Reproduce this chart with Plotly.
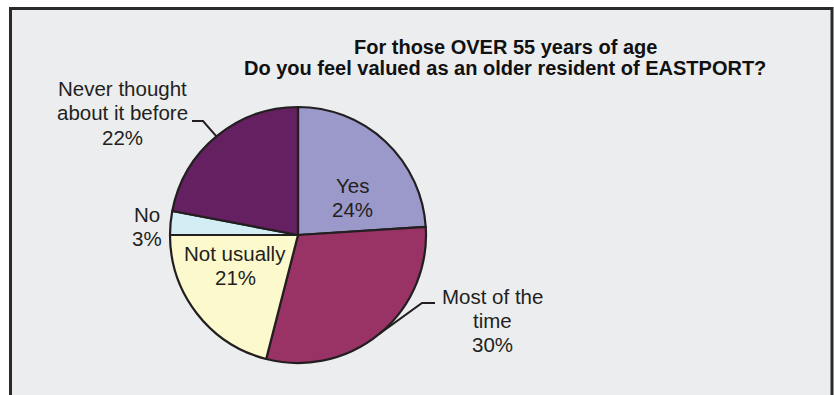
import math
import plotly.graph_objects as go

# ---- data ----
categories = ["Yes", "Most of the time", "Not usually", "No", "Never thought about it before"]
values = [24, 30, 21, 3, 22]
colors = ["#9B98CA", "#993366", "#FCF9CC", "#D3EDF4", "#642060"]
label_lines = [
    ["Yes"],
    ["Most of the", "time"],
    ["Not usually"],
    ["No"],
    ["Never thought", "about it before"],
]
title_lines = ["For those OVER 55 years of age",
               "Do you feel valued as an older resident of EASTPORT?"]

W, H = 834, 395
FONT = "Arial, Liberation Sans, sans-serif"

def px(x):
    return x / W

def py(y):
    return 1 - y / H

# pie geometry (pixels)
CX, CY, R = 298, 235, 128

fig = go.Figure()
fig.add_trace(go.Pie(
    labels=categories,
    values=values,
    sort=False,
    direction="clockwise",
    rotation=0,
    marker=dict(colors=colors, line=dict(color="#231F20", width=2.2)),
    textinfo="none",
    hoverinfo="label+percent",
    showlegend=False,
    domain=dict(x=[px(CX - R), px(CX + R)], y=[py(CY + R), py(CY - R)]),
))

shapes = []
# chart frame
shapes.append(dict(type="rect", xref="paper", yref="paper", layer="below",
                   x0=px(10.5), x1=px(832), y0=py(420), y1=py(8.5),
                   fillcolor="#ECEDEF", line=dict(color="#2A2A2A", width=3)))

annotations = []
# title lines
for i, t in enumerate(title_lines):
    annotations.append(dict(text=t, x=px(505), y=py(47 + 21 * i), xref="paper", yref="paper",
                            showarrow=False, xanchor="center", yanchor="middle",
                            font=dict(family=FONT, size=20, color="#111111", weight="bold")))

# label positions (center x, first line y) in pixels
label_pos = {
    "Yes": (352, 185),
    "Most of the time": (492, 296),
    "Not usually": (235, 253),
    "No": (147, 214),
    "Never thought about it before": (122, 89),
}
LINE_H = 24
total = sum(values)
cum = 0
for cat, v, lines in zip(categories, values, label_lines):
    mid = (cum + v / 2) / total * 2 * math.pi
    cum += v
    lx, ly = label_pos[cat]
    pct = f"{round(v / total * 100)}%"
    all_lines = lines + [pct]
    for j, t in enumerate(all_lines):
        annotations.append(dict(text=t, x=px(lx), y=py(ly + LINE_H * j), xref="paper", yref="paper",
                                showarrow=False, xanchor="center", yanchor="middle",
                                font=dict(family=FONT, size=20.5, color="#231F20")))
    # leader lines for outside labels
    ex = CX + R * math.sin(mid)
    ey = CY - R * math.cos(mid)
    if cat == "Never thought about it before":
        pts = [(ex, ey), (203, 121), (192, 121)]
    elif cat == "Most of the time":
        pts = [(ex, ey), (422, 303), (435, 303)]
    else:
        pts = None
    if pts:
        path = "M " + " L ".join(f"{px(a)},{py(b)}" for a, b in pts)
        shapes.append(dict(type="path", xref="paper", yref="paper", path=path,
                           line=dict(color="#231F20", width=2)))

fig.update_layout(
    width=W, height=H,
    margin=dict(l=0, r=0, t=0, b=0),
    paper_bgcolor="white",
    plot_bgcolor="white",
    shapes=shapes,
    annotations=annotations,
)

fig.write_html("out.html",
               config={"displayModeBar": False},
               post_script="document.body.style.margin='0';document.body.style.overflow='hidden';")
